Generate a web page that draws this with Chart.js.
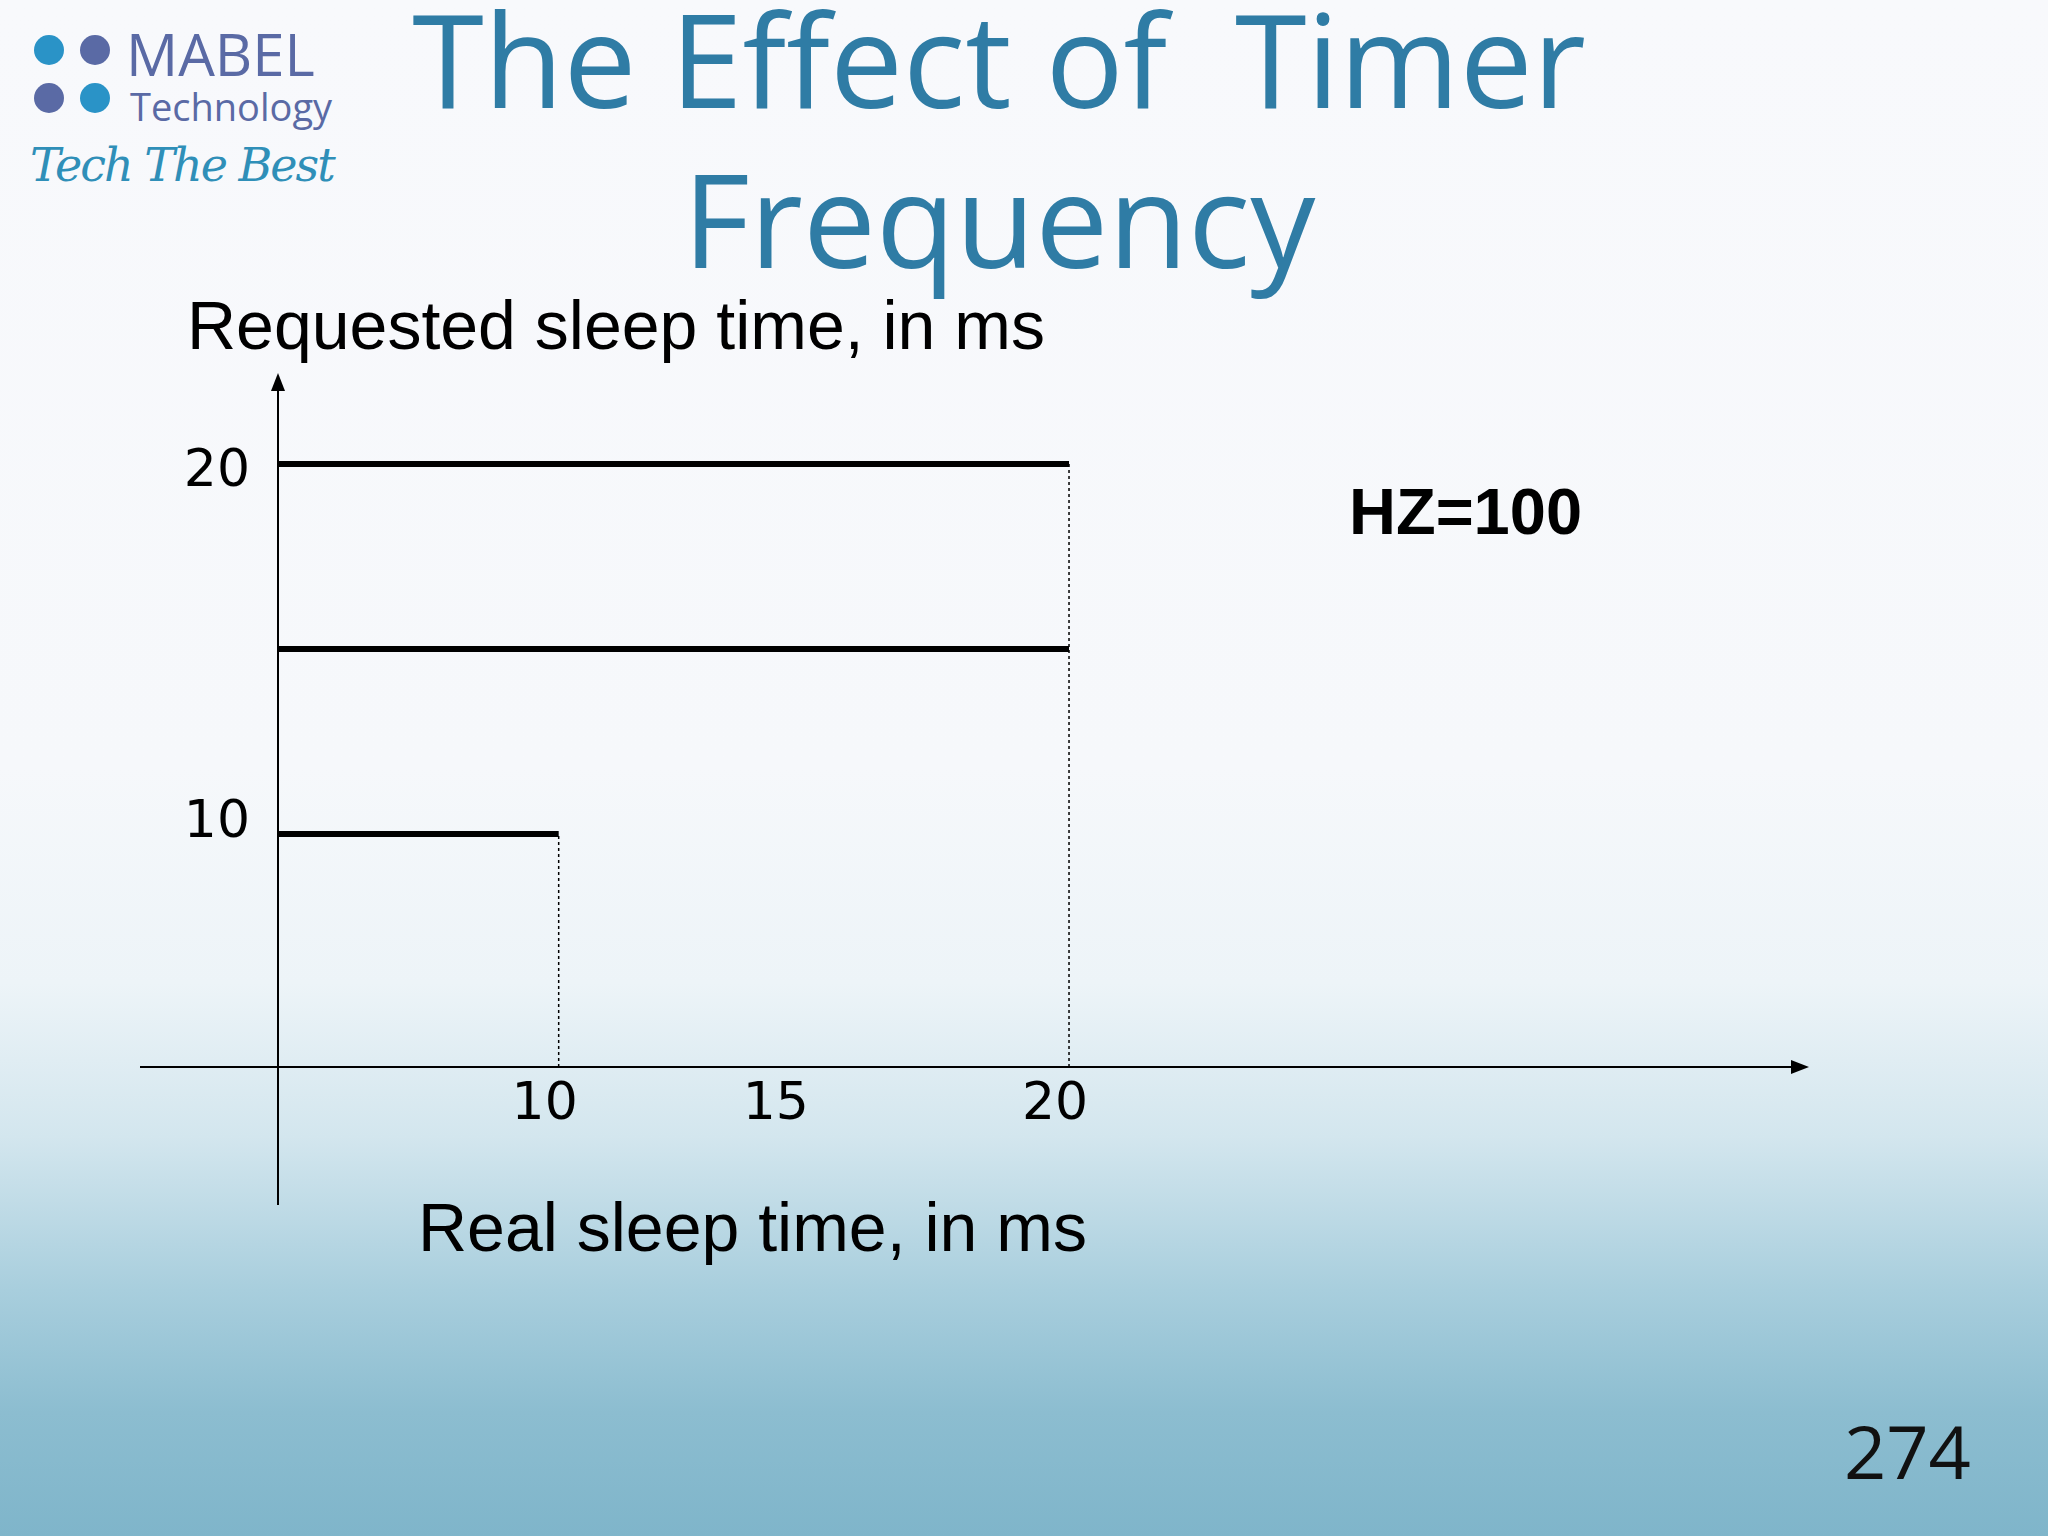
<!DOCTYPE html>
<html><head><meta charset="utf-8">
<script src="https://cdn.jsdelivr.net/npm/chart.js@4"></script>
<style>
html,body{margin:0;padding:0;}
body{width:2048px;height:1536px;position:relative;overflow:hidden;font-family:"Liberation Sans",Arial,sans-serif;
background:linear-gradient(180deg,#f8f9fc 0%,#f6f8fb 50%,#edf4f8 64%,#d3e6ee 74%,#a8cedd 84%,#8cbdd0 92%,#7fb5ca 100%);}
.t{position:absolute;white-space:nowrap;}
#c{position:absolute;left:0;top:0;}
</style></head><body>
<div class="t" style="left:0;width:1998px;text-align:center;top:-22px;font-family:'Open Sans',sans-serif;font-size:130px;color:#2f7ca5;line-height:160px;">The Effect of&nbsp; Timer<br>Frequency</div>
<div class="t" style="left:30px;top:30px;">
 <svg width="120" height="90"><circle cx="19" cy="20" r="15" fill="#2a93c7"/><circle cx="65" cy="20" r="15" fill="#5a6aa5"/><circle cx="19" cy="68" r="15" fill="#5a6aa5"/><circle cx="65" cy="68" r="15" fill="#2a93c7"/></svg>
</div>
<div class="t" style="left:126px;top:22px;font-family:'Open Sans',sans-serif;font-size:58px;color:#5a6aa5;line-height:64px;">MABEL</div>
<div class="t" style="left:130px;top:80px;font-family:'Open Sans',sans-serif;font-size:38px;color:#5a6aa5;">Technology</div>
<div class="t" style="left:30px;top:138px;font-family:'DejaVu Serif',serif;font-style:italic;font-size:46px;color:#2f8fb8;letter-spacing:-2px;">Tech The Best</div>
<div class="t" style="left:187px;top:286px;font-size:68px;color:#000;">Requested sleep time, in ms</div>
<div class="t" style="left:418px;top:1188px;font-size:68px;color:#000;">Real sleep time, in ms</div>
<div class="t" style="left:1349px;top:474px;font-size:65px;font-weight:bold;color:#000;">HZ=100</div>
<div class="t" style="left:1844px;top:1400px;font-family:'Open Sans',sans-serif;font-size:74px;color:#111;">274</div>
<canvas id="c" width="2048" height="1536"></canvas>
<script>
const requestedMs=[20,15,10];
const realMs=[20,20,10];
const xTicks=[10,15,20];
const yTicks=[10,20];
const X0=4.5,X1=34.5,Y0=3.7,Y1=22.3;
const datasets=[];
requestedMs.forEach((r,i)=>{
 datasets.push({data:[{x:X0,y:r},{x:realMs[i],y:r}],borderColor:'#000',borderWidth:6,pointRadius:0});
});
[...new Set(realMs)].forEach(v=>{
 const top=Math.max(...requestedMs.filter((r,i)=>realMs[i]===v));
 datasets.push({data:[{x:v,y:Y0},{x:v,y:top}],borderColor:'#000',borderWidth:1.5,borderDash:[3,3],pointRadius:0});
});
const axes={id:'axes',afterDraw(ch){
 const c=ch.ctx,xs=ch.scales.x,ys=ch.scales.y;
 const ox=xs.getPixelForValue(X0),oy=ys.getPixelForValue(Y0);
 c.save();c.strokeStyle='#000';c.fillStyle='#000';c.lineWidth=2;
 c.beginPath();c.moveTo(140,oy);c.lineTo(xs.right-8,oy);c.stroke();
 c.beginPath();c.moveTo(xs.right,oy);c.lineTo(xs.right-18,oy-7);c.lineTo(xs.right-18,oy+7);c.closePath();c.fill();
 c.beginPath();c.moveTo(ox,1205);c.lineTo(ox,ys.top+8);c.stroke();
 c.beginPath();c.moveTo(ox,ys.top-6);c.lineTo(ox-7,ys.top+12);c.lineTo(ox+7,ys.top+12);c.closePath();c.fill();
 c.font='52px "DejaVu Sans"';c.textBaseline='middle';
 c.textAlign='center';
 const xl={10:-14,15:-38,20:-14};
 xTicks.forEach(v=>c.fillText(String(v),xs.getPixelForValue(v)+xl[v],oy+38));
 c.textAlign='right';
 yTicks.forEach(v=>c.fillText(String(v),250,ys.getPixelForValue(v)+(v===20?8:-10)));
 c.restore();
}};
new Chart(document.getElementById('c'),{type:'line',data:{datasets},
 options:{responsive:false,animation:false,
  layout:{padding:{left:278,right:239,top:379,bottom:469}},
  plugins:{legend:{display:false},tooltip:{enabled:false}},
  scales:{x:{type:'linear',min:X0,max:X1,display:false},y:{type:'linear',min:Y0,max:Y1,display:false}}},
 plugins:[axes]});
</script>
</body></html>
